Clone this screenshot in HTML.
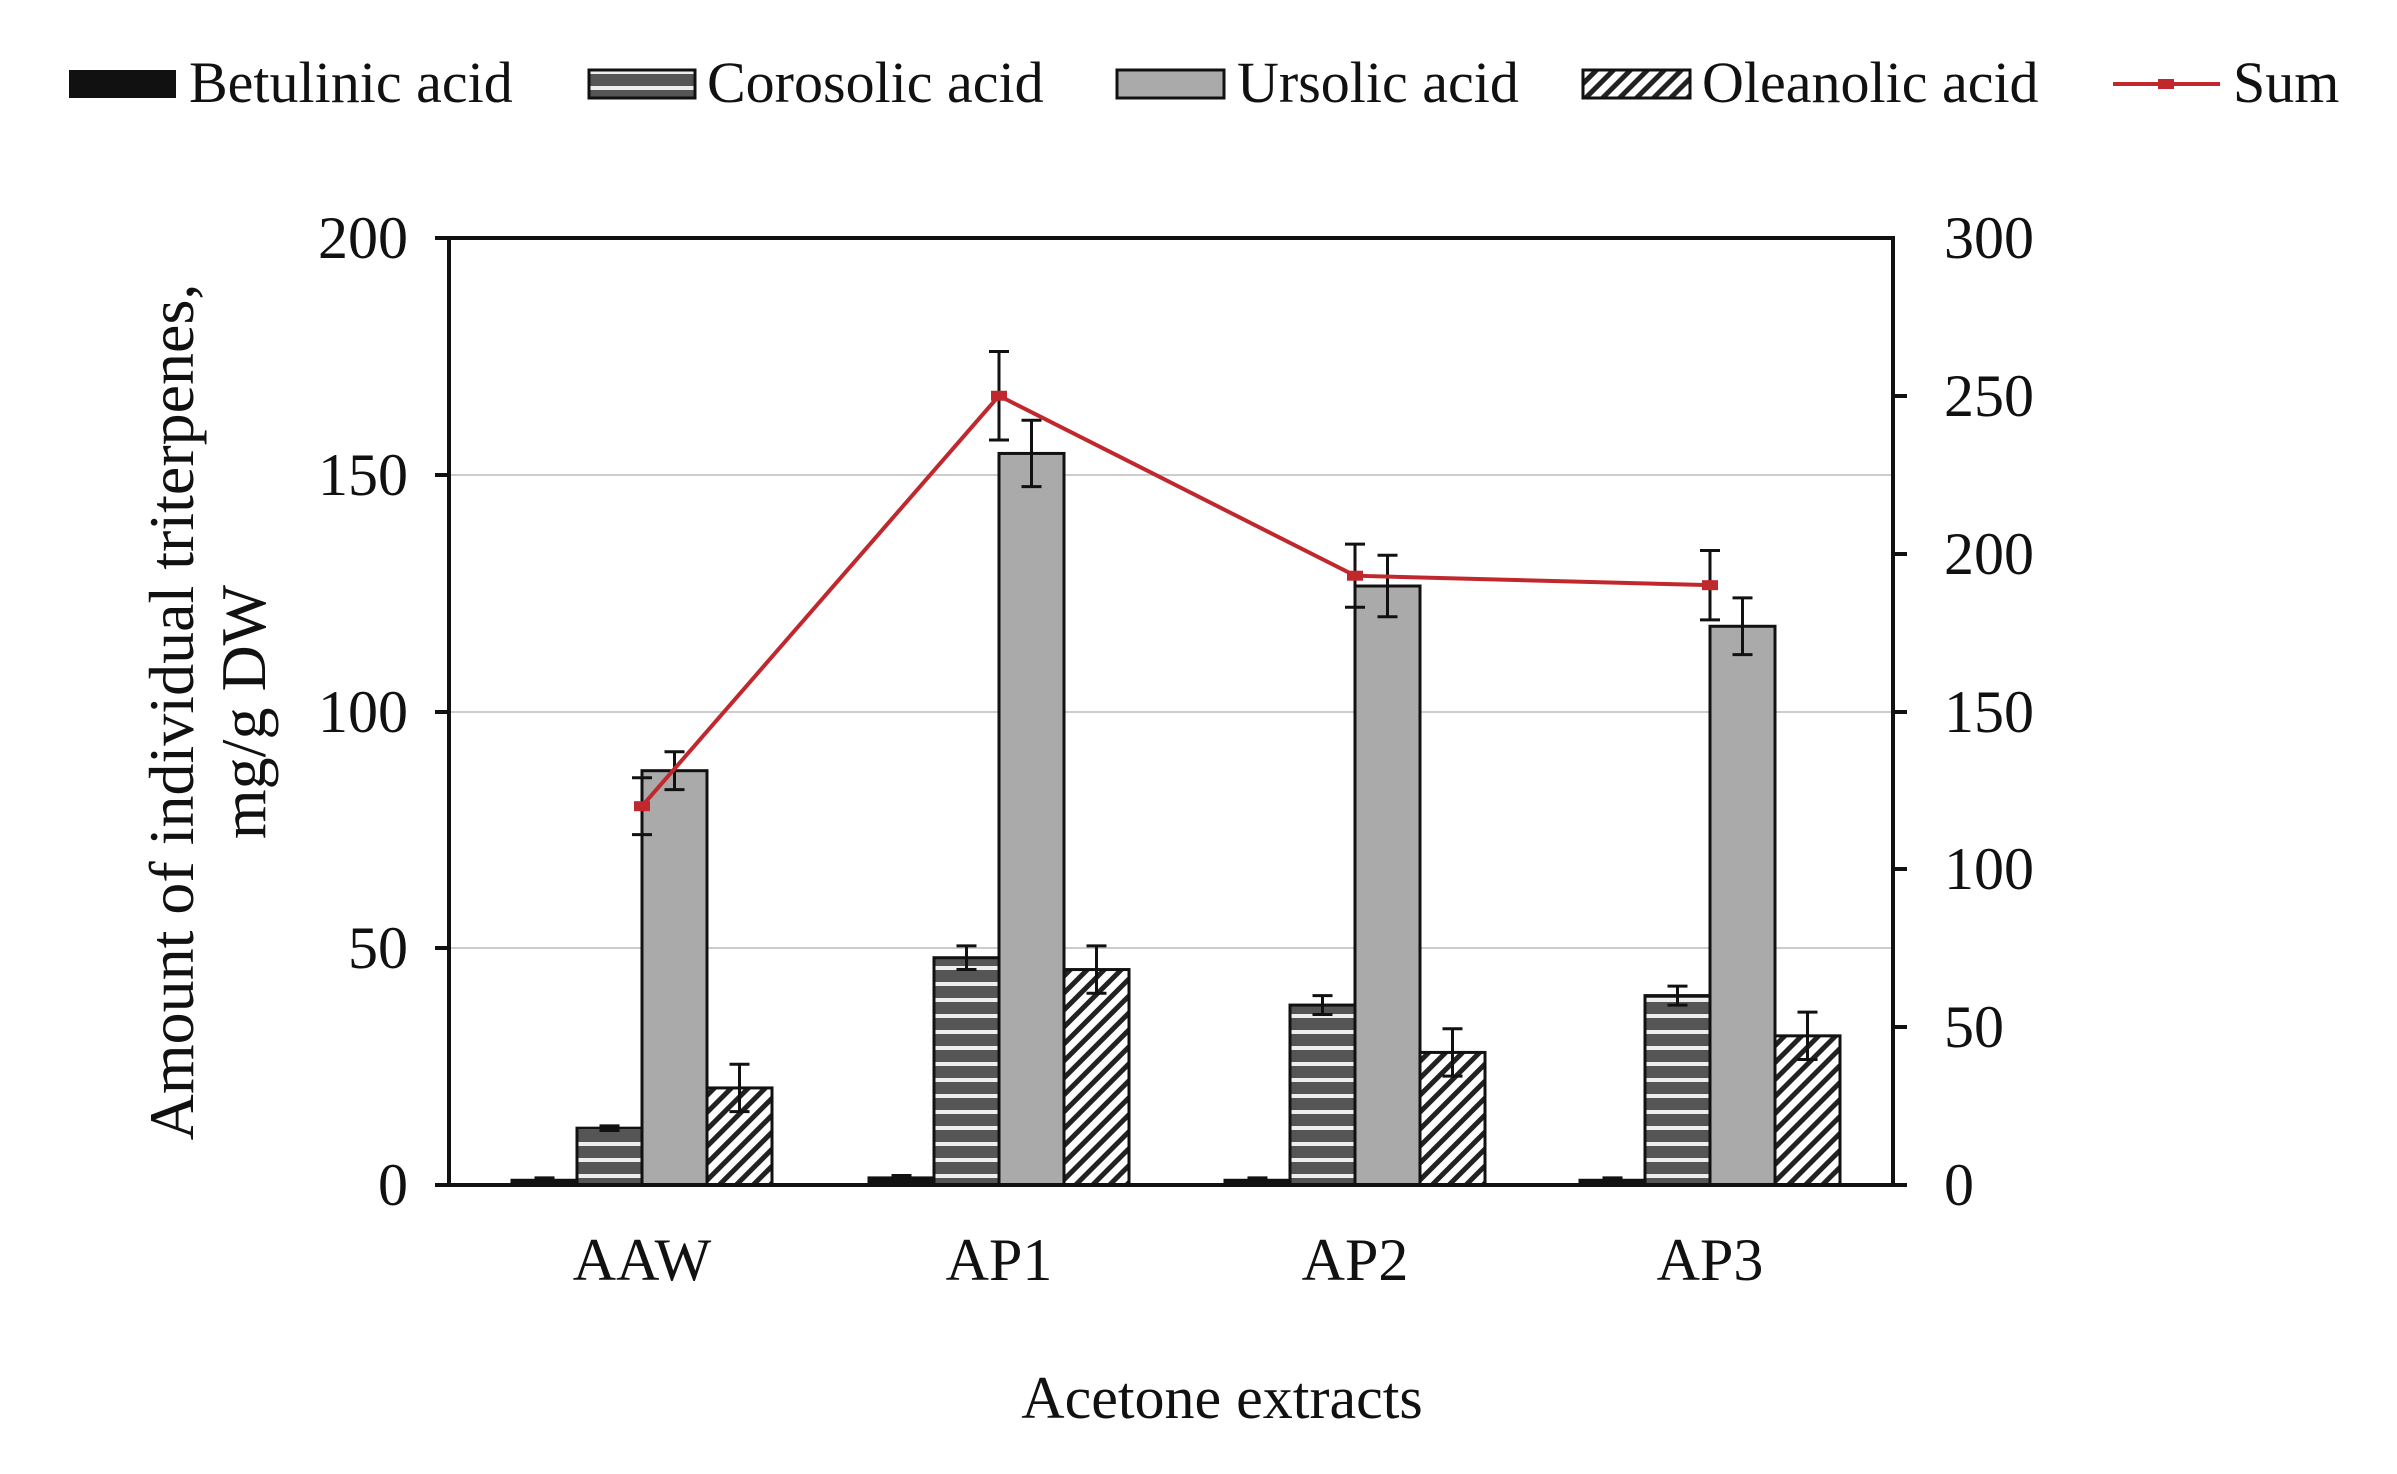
<!DOCTYPE html>
<html><head><meta charset="utf-8"><style>
html,body{margin:0;padding:0;background:#fff;}
svg{display:block;}
text{font-family:"Liberation Serif",serif;fill:#111;}
</style></head><body>
<svg id="s" width="2397" height="1474" viewBox="0 0 2397 1474" xmlns="http://www.w3.org/2000/svg">
<defs>
<pattern id="hs" width="10" height="16" patternUnits="userSpaceOnUse">
<rect width="10" height="16" fill="#555"/><rect y="6" width="10" height="4" fill="#eee"/>
</pattern>
<pattern id="dg" width="12" height="12" patternUnits="userSpaceOnUse" patternTransform="rotate(45)">
<rect width="12" height="12" fill="#fff"/><rect width="5" height="12" fill="#222"/>
</pattern>
</defs>
<rect x="69" y="70" width="107" height="28" fill="#111"/>
<text x="189" y="102" font-size="58">Betulinic acid</text>
<rect x="589" y="70" width="106" height="28" fill="url(#hs)" stroke="#111" stroke-width="3"/>
<text x="707" y="102" font-size="58">Corosolic acid</text>
<rect x="1117" y="70" width="107" height="28" fill="#aaa" stroke="#111" stroke-width="3"/>
<text x="1237" y="102" font-size="58">Ursolic acid</text>
<rect x="1583" y="70" width="107" height="28" fill="url(#dg)" stroke="#111" stroke-width="3"/>
<text x="1702" y="102" font-size="58">Oleanolic acid</text>
<line x1="2113" y1="84" x2="2220" y2="84" stroke="#c0282d" stroke-width="4"/>
<rect x="2158" y="79" width="16" height="10" fill="#c0282d"/>
<text x="2233" y="102" font-size="58">Sum</text>
<g stroke="#ccc" stroke-width="2">
<line x1="449" y1="475" x2="1893" y2="475"/>
<line x1="449" y1="712" x2="1893" y2="712"/>
<line x1="449" y1="948" x2="1893" y2="948"/>
</g>
<g id="bars"></g>
<g stroke="#111" stroke-width="4" fill="none">
<line x1="449" y1="238" x2="1893" y2="238"/>
<line x1="449" y1="236" x2="449" y2="1187"/>
<line x1="1893" y1="236" x2="1893" y2="1187"/>
<line x1="435" y1="1185" x2="1907" y2="1185"/>
<line x1="435" y1="238" x2="449" y2="238"/>
<line x1="435" y1="475" x2="449" y2="475"/>
<line x1="435" y1="712" x2="449" y2="712"/>
<line x1="435" y1="948" x2="449" y2="948"/>
<line x1="1893" y1="396" x2="1907" y2="396"/>
<line x1="1893" y1="554" x2="1907" y2="554"/>
<line x1="1893" y1="712" x2="1907" y2="712"/>
<line x1="1893" y1="869" x2="1907" y2="869"/>
<line x1="1893" y1="1027" x2="1907" y2="1027"/>
</g>
<g font-size="60" text-anchor="end">
<text x="408" y="258">200</text><text x="408" y="495">150</text><text x="408" y="732">100</text><text x="408" y="968">50</text><text x="408" y="1205">0</text>
</g>
<g font-size="60" text-anchor="start">
<text x="1944" y="258">300</text><text x="1944" y="416">250</text><text x="1944" y="574">200</text><text x="1944" y="732">150</text><text x="1944" y="889">100</text><text x="1944" y="1047">50</text><text x="1944" y="1205">0</text>
</g>
<g font-size="60" text-anchor="middle">
<text x="642" y="1280">AAW</text><text x="999" y="1280">AP1</text><text x="1355" y="1280">AP2</text><text x="1710" y="1280">AP3</text>
<text x="1222" y="1418">Acetone extracts</text>
<text font-size="64" transform="translate(193,712) rotate(-90)">Amount of individual triterpenes,</text>
<text font-size="64" transform="translate(265,712) rotate(-90)">mg/g DW</text>
</g>
<g id="line"></g>
</svg>
<script>
var NS="http://www.w3.org/2000/svg";
function el(p,t,a){var e=document.createElementNS(NS,t);for(var k in a)e.setAttribute(k,a[k]);p.appendChild(e);return e;}
var y=function(v){return 1185-v*4.735;}, yr=function(v){return 1185-v*3.157;};
var C=[642,999,1355,1710];
var D=[[1,12,87.5,20.5],[1.5,48,154.5,45.5],[1,38,126.5,28],[1,40,118,31.5]];
var E=[[0.5,0.5,4,5],[0.5,2.5,7,5],[0.5,2,6.5,5],[0.5,2,6,5]];
var F=["#111","url(#hs)","#aaa","url(#dg)"];
var g=document.getElementById("bars");
for(var i=0;i<4;i++)for(var j=0;j<4;j++){
 var x=C[i]-130+65*j,v=D[i][j];
 el(g,"rect",{x:x,y:y(v),width:65,height:1185-y(v),fill:F[j],stroke:"#111","stroke-width":3});
 var cx=x+32.5,e=E[i][j];
 el(g,"line",{x1:cx,y1:y(v+e),x2:cx,y2:y(v-e),stroke:"#111","stroke-width":3});
 el(g,"line",{x1:cx-10,y1:y(v+e),x2:cx+10,y2:y(v+e),stroke:"#111","stroke-width":3});
 el(g,"line",{x1:cx-10,y1:y(v-e),x2:cx+10,y2:y(v-e),stroke:"#111","stroke-width":3});
}
var S=[120,250,193,190],SE=[9,14,10,11],l=document.getElementById("line");
el(l,"polyline",{points:C.map(function(c,i){return c+","+yr(S[i]);}).join(" "),fill:"none",stroke:"#c0282d","stroke-width":4});
for(var i=0;i<4;i++){
 var c=C[i];
 el(l,"line",{x1:c,y1:yr(S[i]+SE[i]),x2:c,y2:yr(S[i]-SE[i]),stroke:"#111","stroke-width":3});
 el(l,"line",{x1:c-10,y1:yr(S[i]+SE[i]),x2:c+10,y2:yr(S[i]+SE[i]),stroke:"#111","stroke-width":3});
 el(l,"line",{x1:c-10,y1:yr(S[i]-SE[i]),x2:c+10,y2:yr(S[i]-SE[i]),stroke:"#111","stroke-width":3});
 el(l,"rect",{x:c-8,y:yr(S[i])-5,width:16,height:10,fill:"#c0282d"});
}
</script>
</body></html>
